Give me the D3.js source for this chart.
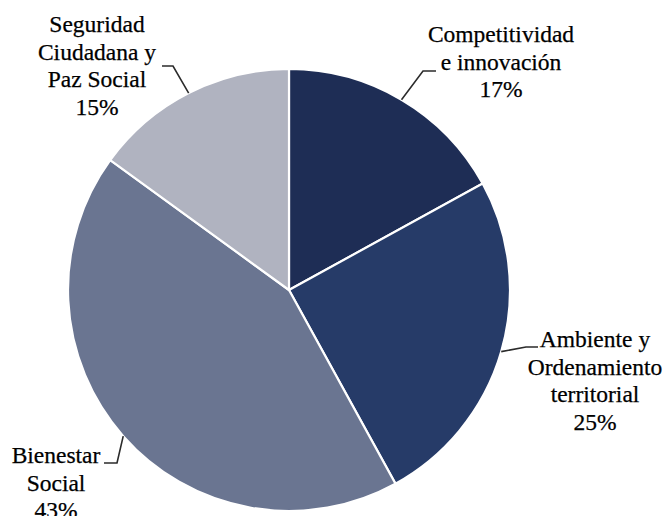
<!DOCTYPE html>
<html><head><meta charset="utf-8">
<script src="https://cdn.jsdelivr.net/npm/d3@7"></script>
<style>body{margin:0;background:#fff}svg{display:block}</style>
</head><body>
<svg id="c" width="669" height="516"></svg>
<script>
const categories = ["Competitividad e innovación", "Ambiente y Ordenamiento territorial", "Bienestar Social", "Seguridad Ciudadana y Paz Social"];
const values = [17, 25, 43, 15];
const labelLines = [["Competitividad","e innovación","17%"],["Ambiente y","Ordenamiento","territorial","25%"],["Bienestar","Social","43%"],["Seguridad","Ciudadana y","Paz Social","15%"]];
const colors = ["#1e2d55","#263b68","#6a7591","#b0b3c0"];

// layout (not data)
const cx = 289, cy = 290, R = 221;
const layout = [
  {elbow:[423,71], end:[436,71], tx:501, ty:42},
  {elbow:[526,347], end:[538,347], tx:595, ty:347},
  {elbow:[117,463], end:[104,463], tx:56, ty:463},
  {elbow:[173,66], end:[162,66], tx:97, ty:32}
];
const lineH = 27.5;

const svg = d3.select("#c");
const g = svg.append("g").attr("transform",`translate(${cx},${cy})`);
const pie = d3.pie().sort(null).value(d=>d)(values);
const arc = d3.arc().innerRadius(0).outerRadius(R);
g.selectAll("path.s").data(pie).join("path").attr("class","s")
  .attr("d",arc).attr("fill",(d,i)=>colors[i]).attr("stroke","#fff").attr("stroke-width",2.2);

pie.forEach((d,i)=>{
  const a = (d.startAngle+d.endAngle)/2;
  const p0 = [cx+R*Math.sin(a), cy-R*Math.cos(a)];
  const L = layout[i];
  svg.append("polyline").attr("points",[p0,L.elbow,L.end].map(p=>p.join(",")).join(" "))
    .attr("fill","none").attr("stroke","#2b2b2b").attr("stroke-width",1.6);
  const t = svg.append("text").attr("font-family","'Liberation Serif','Times New Roman',serif")
    .attr("font-size",23.5).attr("fill","#000").attr("stroke","#000").attr("stroke-width",0.25)
    .attr("text-anchor","middle");
  labelLines[i].forEach((s,k)=>{
    t.append("tspan").attr("x",L.tx).attr("y",L.ty+k*lineH).text(s);
  });
});
</script>
</body></html>
